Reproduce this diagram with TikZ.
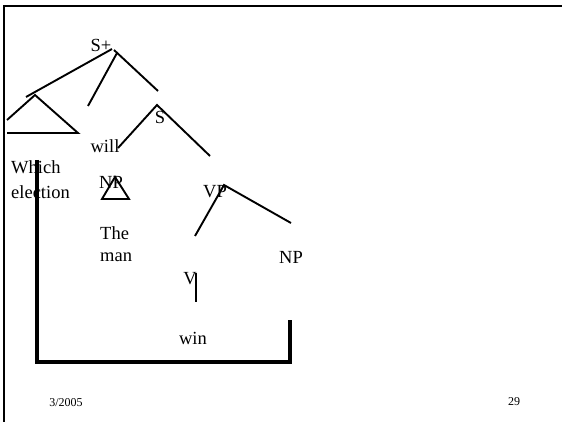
\documentclass[tikz,border=0pt]{standalone}
\usepackage{fontspec}
\setmainfont{Liberation Serif}
\begin{document}
\begin{tikzpicture}[x=1pt,y=-1pt,
  lbl/.style={inner sep=0pt,font=\fontsize{18.5}{22}\selectfont},
  foot/.style={inner sep=0pt,font=\fontsize{12}{14}\selectfont},
  branch/.style={line width=1.9pt},
  frame/.style={line width=2.4pt},
  thick bar/.style={line width=3.8pt}]
\useasboundingbox (0,0) rectangle (562,422);
% frame
\coordinate (fTR) at (562,6);
\coordinate (fTL) at (4,6);
\coordinate (fBL) at (4,422);
\draw[frame] (fTR) -- (fTL) -- (fBL);
% labels
\node[lbl] (splus) at (101,45) {S+};
\node[lbl] (s) at (160,117) {S};
\node[lbl] (will) at (105,146) {will};
\node[lbl,anchor=west] (which) at (11,167) {Which};
\node[lbl,anchor=west] (election) at (11,192) {election};
\node[lbl] (np1) at (111,182) {NP};
\node[lbl] (vp) at (215,192) {VP};
\node[lbl,anchor=west] (the) at (100,233) {The};
\node[lbl,anchor=west] (man) at (100,257) {man};
\node[lbl] (np2) at (291,257) {NP};
\node[lbl] (v) at (190,279) {V};
\node[lbl] (win) at (193,338) {win};
\node[foot] (date) at (66,403) {3/2005};
\node[foot] (page) at (514,402) {29};
% branch coordinates
\coordinate (a1) at (112,49);
\coordinate (a2) at (117,53);
\coordinate (a3) at (114,50);
\coordinate (b1) at (26,97);
\coordinate (b2) at (88,106);
\coordinate (b3) at (158,91);
\coordinate (tA) at (35,95);
\coordinate (tL) at (7,120);
\coordinate (tR) at (78,133);
\coordinate (tBL) at (7,133);
\coordinate (sA) at (157,105);
\coordinate (sL) at (118,148);
\coordinate (sR) at (210,156);
\coordinate (nA) at (115,177);
\coordinate (nL) at (102,199);
\coordinate (nR) at (129,199);
\coordinate (vA) at (224,185);
\coordinate (vL) at (195,236);
\coordinate (vR) at (291,223);
\coordinate (vT) at (196,273);
\coordinate (vB) at (196,302);
\coordinate (m1) at (37,160);
\coordinate (m2) at (37,362);
\coordinate (m3) at (290,362);
\coordinate (m4) at (290,320);
% branches
\draw[branch] (a1) -- (b1);
\draw[branch] (a2) -- (b2);
\draw[branch] (a3) -- (b3);
\draw[branch] (tL) -- (tA) -- (tR) -- (tBL);
\draw[branch] (sL) -- (sA) -- (sR);
\draw[branch] (nL) -- (nA) -- (nR) -- cycle;
\draw[branch] (vL) -- (vA) -- (vR);
\draw[branch] (vT) -- (vB);
% movement bar
\draw[thick bar] (m1) -- (m2) -- (m3) -- (m4);
\end{tikzpicture}
\end{document}
